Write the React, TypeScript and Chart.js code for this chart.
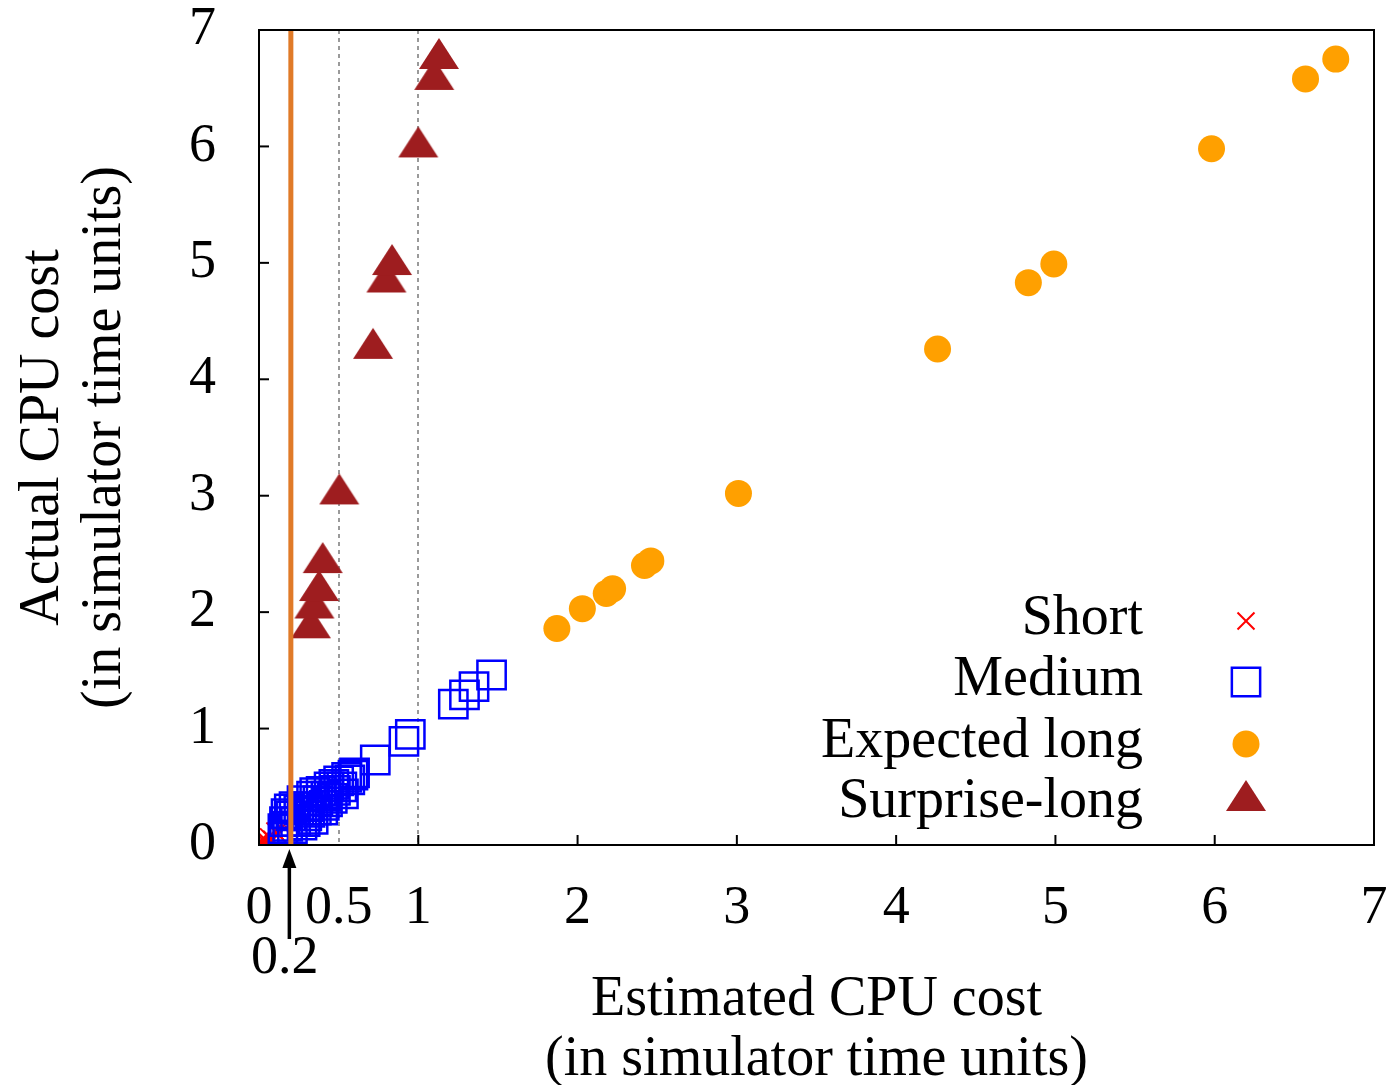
import React, { useEffect, useRef } from 'react';
import { Chart, registerables } from 'chart.js';
import { drawPoint } from 'chart.js/helpers';

Chart.register(...registerables);

// ---- data ----
const xTickValues = [0, 0.5, 1, 2, 3, 4, 5, 6, 7];
const yTickValues = [0, 1, 2, 3, 4, 5, 6, 7];
const xTickMarks = [1, 2, 3, 4, 5, 6];
const dottedLines = [0.5, 1];
const thresholdX = 0.2;
const thresholdLabel = '0.2';

const seriesNames = ['Short', 'Medium', 'Expected long', 'Surprise-long'];

const shortX = [0.0, 0.01, 0.03, 0.02, 0.05, 0.06, 0.08, 0.1, 0.12, 0.15];
const shortY = [0.0, 0.03, 0.01, 0.05, 0.03, 0.07, 0.05, 0.12, 0.09, 0.16];

const mediumX = [0.15, 0.16, 0.18, 0.2, 0.19, 0.23, 0.25, 0.27, 0.27, 0.3, 0.31, 0.33, 0.34, 0.36, 0.37, 0.39, 0.41, 0.42, 0.44, 0.46, 0.48, 0.5, 0.52, 0.55, 0.57, 0.6, 0.59, 0.17, 0.22, 0.29, 0.32, 0.35, 0.4, 0.43, 0.47, 0.53, 0.21, 0.73, 0.91, 0.95, 1.22, 1.29, 1.35, 1.46];
const mediumY = [0.14, 0.2, 0.16, 0.25, 0.31, 0.2, 0.3, 0.17, 0.38, 0.25, 0.33, 0.42, 0.22, 0.3, 0.38, 0.46, 0.34, 0.42, 0.5, 0.4, 0.47, 0.55, 0.5, 0.58, 0.56, 0.62, 0.6, 0.27, 0.33, 0.2, 0.28, 0.45, 0.3, 0.37, 0.52, 0.44, 0.14, 0.73, 0.89, 0.95, 1.21, 1.29, 1.36, 1.46];

const expectedX = [1.87, 2.03, 2.18, 2.22, 2.42, 2.46, 3.01, 4.26, 4.83, 4.99, 5.98, 6.57, 6.76];
const expectedY = [1.86, 2.03, 2.16, 2.2, 2.4, 2.44, 3.02, 4.26, 4.83, 4.99, 5.98, 6.58, 6.75];

const surpriseX = [0.326, 0.348, 0.377, 0.4, 0.504, 0.716, 0.8, 0.835, 1.0, 1.1, 1.13];
const surpriseY = [1.87, 2.04, 2.19, 2.43, 3.02, 4.27, 4.84, 4.99, 6.0, 6.58, 6.76];

const xTitle = ['Estimated CPU cost', '(in simulator time units)'];
const yTitle = ['Actual CPU cost', '(in simulator time units)'];

// ---- styles ----
const FONT = "'Liberation Serif', 'Times New Roman', serif";
const FS = 54;
const TFS = 56;
const RED = '#ff0000';
const BLUE = '#0000ff';
const ORANGE = '#ffa000';
const DARKRED = '#9e1d1f';
const LINE_ORANGE = '#e07a28';

const toPts = (xs: number[], ys: number[]) => xs.map((x, i) => ({ x, y: ys[i] }));

function makeTriangle(): HTMLCanvasElement {
  const c = document.createElement('canvas');
  c.width = 42;
  c.height = 44;
  const g = c.getContext('2d')!;
  g.fillStyle = DARKRED;
  g.beginPath();
  g.moveTo(21, 2);
  g.lineTo(41, 33);
  g.lineTo(1, 33);
  g.closePath();
  g.fill();
  return c;
}

const zeroPad = (s: any) => {
  s.paddingLeft = 0;
  s.paddingRight = 0;
  s.paddingTop = 0;
  s.paddingBottom = 0;
};

export default function App() {
  const ref = useRef<HTMLCanvasElement>(null);

  useEffect(() => {
    const tri = makeTriangle();
    const styles = [
      { pointStyle: 'crossRot', radius: 12, borderColor: RED, backgroundColor: RED, borderWidth: 2 },
      { pointStyle: 'rect', radius: 20, borderColor: BLUE, backgroundColor: 'rgba(0,0,0,0)', borderWidth: 2.5 },
      { pointStyle: 'circle', radius: 13.5, borderColor: ORANGE, backgroundColor: ORANGE, borderWidth: 0 },
      { pointStyle: tri, radius: 20, borderColor: DARKRED, backgroundColor: DARKRED, borderWidth: 0 },
    ];

    const decor = {
      id: 'decor',
      beforeDatasetsDraw(chart: any) {
        const { ctx, chartArea: a, scales } = chart;
        const xs = scales.x;
        ctx.save();
        ctx.strokeStyle = '#9a9a9a';
        ctx.lineWidth = 2;
        ctx.setLineDash([4, 4]);
        dottedLines.forEach((v) => {
          const px = Math.round(xs.getPixelForValue(v));
          ctx.beginPath();
          ctx.moveTo(px, a.top);
          ctx.lineTo(px, a.bottom);
          ctx.stroke();
        });
        ctx.restore();
      },
      afterDatasetsDraw(chart: any) {
        const { ctx, chartArea: a, scales } = chart;
        const xs = scales.x;
        const ys = scales.y;
        ctx.save();
        // threshold line
        const tx = xs.getPixelForValue(thresholdX);
        ctx.strokeStyle = LINE_ORANGE;
        ctx.lineWidth = 5;
        ctx.beginPath();
        ctx.moveTo(tx, a.top);
        ctx.lineTo(tx, a.bottom);
        ctx.stroke();
        // border
        ctx.strokeStyle = '#000';
        ctx.lineWidth = 2;
        ctx.strokeRect(a.left, a.top, a.right - a.left, a.bottom - a.top);
        // inward ticks
        yTickValues.forEach((v) => {
          const py = ys.getPixelForValue(v);
          ctx.beginPath();
          ctx.moveTo(a.left, py);
          ctx.lineTo(a.left + 10, py);
          ctx.stroke();
        });
        xTickMarks.forEach((v) => {
          const px = xs.getPixelForValue(v);
          ctx.beginPath();
          ctx.moveTo(px, a.bottom);
          ctx.lineTo(px, a.bottom - 10);
          ctx.stroke();
        });
        // arrow
        ctx.lineWidth = 3.5;
        ctx.beginPath();
        ctx.moveTo(tx - 1.5, 939);
        ctx.lineTo(tx - 1.5, 864);
        ctx.stroke();
        ctx.fillStyle = '#000';
        ctx.beginPath();
        ctx.moveTo(tx - 1.5, a.bottom + 4);
        ctx.lineTo(tx - 8.5, a.bottom + 23);
        ctx.lineTo(tx + 5.5, a.bottom + 23);
        ctx.closePath();
        ctx.fill();
        // annotation label
        ctx.font = `${FS}px ${FONT}`;
        ctx.textAlign = 'center';
        ctx.textBaseline = 'middle';
        ctx.fillText(thresholdLabel, tx - 6, 959);
        // legend
        const rowsY = [619, 680, 742, 802];
        ctx.font = `${TFS}px ${FONT}`;
        ctx.textAlign = 'right';
        seriesNames.forEach((name, i) => {
          ctx.fillStyle = '#000';
          ctx.fillText(name, 1143, rowsY[i]);
          const s: any = styles[i];
          ctx.save();
          ctx.fillStyle = s.backgroundColor;
          ctx.strokeStyle = s.borderColor;
          ctx.lineWidth = s.borderWidth;
          const sy = i === 3 ? rowsY[i] - 2 : rowsY[i] + 2;
          drawPoint(ctx, { pointStyle: s.pointStyle, radius: s.radius, rotation: 0, borderWidth: s.borderWidth }, 1246, sy);
          ctx.restore();
        });
        ctx.restore();
      },
    };

    const datasets = [
      { label: seriesNames[0], data: toPts(shortX, shortY), order: 4, ...styles[0] },
      { label: seriesNames[1], data: toPts(mediumX, mediumY), order: 3, ...styles[1] },
      { label: seriesNames[2], data: toPts(expectedX, expectedY), order: 2, ...styles[2] },
      { label: seriesNames[3], data: toPts(surpriseX, surpriseY), order: 1, ...styles[3] },
    ].map((d: any) => ({
      ...d,
      pointStyle: d.pointStyle,
      pointRadius: d.radius,
      pointBorderColor: d.borderColor,
      pointBackgroundColor: d.backgroundColor,
      pointBorderWidth: d.borderWidth,
      showLine: false,
    }));

    const chart = new Chart(ref.current!, {
      type: 'scatter',
      data: { datasets },
      options: {
        animation: false,
        responsive: false,
        devicePixelRatio: 1,
        layout: { padding: { top: 30, right: 23, left: 0, bottom: 0 } },
        plugins: { legend: { display: false }, tooltip: { enabled: false } },
        scales: {
          x: {
            type: 'linear',
            min: 0,
            max: 7,
            grid: { display: false },
            border: { display: false },
            afterBuildTicks: (s: any) => {
              s.ticks = xTickValues.map((v) => ({ value: v }));
            },
            afterFit: (s: any) => {
              s.height = 240;
              zeroPad(s);
            },
            ticks: {
              autoSkip: false,
              maxRotation: 0,
              color: '#000',
              padding: 29,
              font: { family: FONT, size: FS, lineHeight: 1 },
              callback: (v: any) => String(v),
            },
            title: {
              display: true,
              text: xTitle,
              color: '#000',
              padding: { top: 0, bottom: -5 },
              font: { family: FONT, size: TFS, lineHeight: 60 / TFS },
            },
          },
          y: {
            type: 'linear',
            min: 0,
            max: 7,
            grid: { display: false },
            border: { display: false },
            afterBuildTicks: (s: any) => {
              s.ticks = yTickValues.map((v) => ({ value: v }));
            },
            afterFit: (s: any) => {
              s.width = 259;
              zeroPad(s);
            },
            ticks: {
              color: '#000',
              padding: 35,
              font: { family: FONT, size: FS, lineHeight: 1 },
              callback: (v: any) => String(v),
            },
            title: {
              display: true,
              text: yTitle,
              color: '#000',
              padding: { top: 12, bottom: 0 },
              font: { family: FONT, size: TFS, lineHeight: 62 / TFS },
            },
          },
        },
      },
      plugins: [decor],
    } as any);
    return () => chart.destroy();
  }, []);

  return (
    <div style={{ position: 'absolute', left: 0, top: 0, width: 1397, height: 1085, background: '#fff' }}>
      <canvas ref={ref} width={1397} height={1085} style={{ display: 'block', width: 1397, height: 1085 }} />
    </div>
  );
}
